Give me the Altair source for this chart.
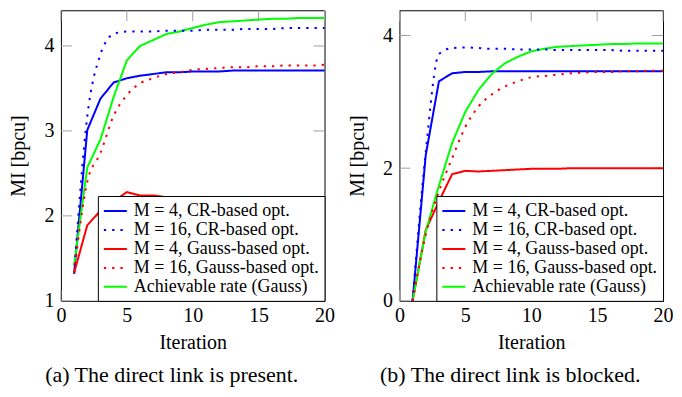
import altair as alt
import pandas as pd

iterations = list(range(1, 21))

series_names = [
    "M = 4, CR-based opt.",
    "M = 16, CR-based opt.",
    "M = 4, Gauss-based opt.",
    "M = 16, Gauss-based opt.",
    "Achievable rate (Gauss)",
]
series_colors = ["#0000ff", "#0000ff", "#ff0000", "#ff0000", "#00ff00"]
series_dotted = [False, True, False, True, False]

# (a) direct link present
cr4_a = [1.32, 3.01, 3.38, 3.57, 3.62, 3.65, 3.67, 3.69, 3.69, 3.70, 3.70, 3.70, 3.71, 3.71, 3.71, 3.71, 3.71, 3.71, 3.71, 3.71]
cr16_a = [1.32, 3.17, 3.90, 4.14, 4.17, 4.17, 4.17, 4.18, 4.18, 4.18, 4.19, 4.19, 4.19, 4.20, 4.20, 4.20, 4.21, 4.21, 4.21, 4.21]
gauss4_a = [1.33, 1.89, 2.06, 2.17, 2.28, 2.24, 2.24, 2.22, 2.22, 2.21, 2.21, 2.21, 2.21, 2.21, 2.21, 2.20, 2.20, 2.20, 2.20, 2.20]
gauss16_a = [1.33, 2.40, 2.74, 3.18, 3.42, 3.56, 3.62, 3.67, 3.69, 3.72, 3.73, 3.74, 3.75, 3.75, 3.76, 3.76, 3.77, 3.77, 3.77, 3.78]
achievable_a = [1.42, 2.57, 2.90, 3.40, 3.83, 4.00, 4.07, 4.14, 4.17, 4.21, 4.25, 4.28, 4.29, 4.30, 4.31, 4.32, 4.32, 4.33, 4.33, 4.33]

# (b) direct link blocked
cr4_b = [0.0, 2.20, 3.31, 3.43, 3.45, 3.45, 3.46, 3.46, 3.46, 3.46, 3.46, 3.46, 3.46, 3.46, 3.46, 3.46, 3.46, 3.46, 3.46, 3.46]
cr16_b = [0.0, 2.25, 3.72, 3.81, 3.82, 3.81, 3.80, 3.80, 3.79, 3.79, 3.79, 3.78, 3.78, 3.78, 3.78, 3.78, 3.77, 3.77, 3.77, 3.77]
gauss4_b = [0.0, 1.07, 1.50, 1.91, 1.96, 1.95, 1.96, 1.97, 1.98, 1.99, 1.99, 1.99, 2.00, 2.00, 2.00, 2.00, 2.00, 2.00, 2.00, 2.00]
gauss16_b = [0.0, 1.00, 1.65, 2.15, 2.62, 2.93, 3.11, 3.23, 3.31, 3.37, 3.39, 3.41, 3.43, 3.44, 3.45, 3.45, 3.46, 3.46, 3.47, 3.47]
achievable_b = [0.0, 1.05, 1.74, 2.38, 2.85, 3.18, 3.42, 3.58, 3.68, 3.76, 3.80, 3.83, 3.84, 3.85, 3.86, 3.87, 3.87, 3.88, 3.88, 3.88]

x_ticks = [0, 5, 10, 15, 20]
y_ticks_a = [1, 2, 3, 4]
y_ticks_b = [0, 2, 4]

caption_a = "(a) The direct link is present."
caption_b = "(b) The direct link is blocked."

W, H = 264, 291
GREY = "#a0a0a0"
FONT = "Liberation Serif"


def make_df(values_list):
    rows = []
    for name, vals, dotted in zip(series_names, values_list, series_dotted):
        for it, v in zip(iterations, vals):
            rows.append({"iter": it, "mi": v, "series": name, "dotted": dotted})
    return pd.DataFrame(rows)


def panel(values_list, ydomain, yticks, caption):
    df = make_df(values_list)
    xscale = alt.Scale(domain=[0, 20], nice=False, zero=False)
    yscale = alt.Scale(domain=ydomain, nice=False, zero=False)
    xaxis = alt.Axis(values=x_ticks, title="Iteration", labelFlush=False,
                     labelOverlap=False, format="d")
    yaxis = alt.Axis(values=yticks, title="MI [bpcu]", labelFlush=False,
                     labelOverlap=False, format="d")
    legend = alt.Legend(title=None, orient="bottom-right", offset=0)
    color = alt.Color("series:N", scale=alt.Scale(domain=series_names, range=series_colors),
                      legend=legend)
    dash = alt.StrokeDash("series:N",
                          scale=alt.Scale(domain=series_names,
                                          range=[[2.3, 6] if d else [1, 0] for d in series_dotted]),
                          legend=legend)
    X = alt.X("iter:Q", scale=xscale, axis=xaxis)
    Y = alt.Y("mi:Q", scale=yscale, axis=yaxis)

    solid = alt.Chart(df[~df["dotted"]]).mark_line(strokeWidth=2).encode(
        x=X, y=Y, color=color, strokeDash=dash, order="iter:Q")
    dotted = alt.Chart(df[df["dotted"]]).mark_line(strokeWidth=2, interpolate="monotone").encode(
        x=X, y=Y, color=color, strokeDash=dash, order="iter:Q")

    xt = pd.DataFrame({"t": x_ticks})
    yt = pd.DataFrame({"t": yticks})
    TX = alt.X("t:Q", scale=xscale, axis=xaxis)
    TY = alt.Y("t:Q", scale=yscale, axis=yaxis)
    top = alt.Chart(xt).mark_rule(color=GREY, strokeWidth=1).encode(
        x=TX, y=alt.value(0), y2=alt.value(11))
    bottom = alt.Chart(xt).mark_rule(color=GREY, strokeWidth=1).encode(
        x=TX, y=alt.value(H - 11), y2=alt.value(H))
    left = alt.Chart(yt).mark_rule(color=GREY, strokeWidth=1).encode(
        y=TY, x=alt.value(0), x2=alt.value(11))
    right = alt.Chart(yt).mark_rule(color=GREY, strokeWidth=1).encode(
        y=TY, x=alt.value(W - 11), x2=alt.value(W))

    return alt.layer(top, bottom, left, right, solid, dotted).properties(
        width=W, height=H,
        title=alt.TitleParams(caption, orient="bottom", offset=12, anchor="middle", dx=-21),
    )


pa = panel([cr4_a, cr16_a, gauss4_a, gauss16_a, achievable_a], [1, 4.42], y_ticks_a, caption_a)
pb = panel([cr4_b, cr16_b, gauss4_b, gauss16_b, achievable_b], [0, 4.38], y_ticks_b, caption_b)

chart = alt.hconcat(
    pa, pb, spacing=75, bounds="flush",
    padding={"left": 0, "top": 1, "right": 0, "bottom": 0},
).resolve_scale(
    x="independent", y="independent", color="independent", strokeDash="independent"
).resolve_legend(color="independent", strokeDash="independent").configure_view(
    stroke="black", strokeWidth=1
).configure_axis(
    grid=False, ticks=False, domain=False,
    labelFont=FONT, labelFontSize=20, labelColor="black",
    titleFont=FONT, titleFontSize=20, titleFontWeight="normal", titleColor="black",
).configure_axisX(labelPadding=5, titlePadding=7).configure_axisY(
    labelPadding=7, titlePadding=15
).configure_title(
    font=FONT, fontSize=22, fontWeight="normal", color="black"
).configure_legend(
    strokeColor="black", fillColor="white", padding=5, cornerRadius=0,
    symbolType="M-1,0H1.56", symbolSize=324, symbolStrokeWidth=2,
    labelFont=FONT, labelFontSize=18, labelColor="black", labelOffset=11,
    labelLimit=400, rowPadding=0,
)

chart.save("out.html", embed_options={"renderer": "svg", "actions": False})
